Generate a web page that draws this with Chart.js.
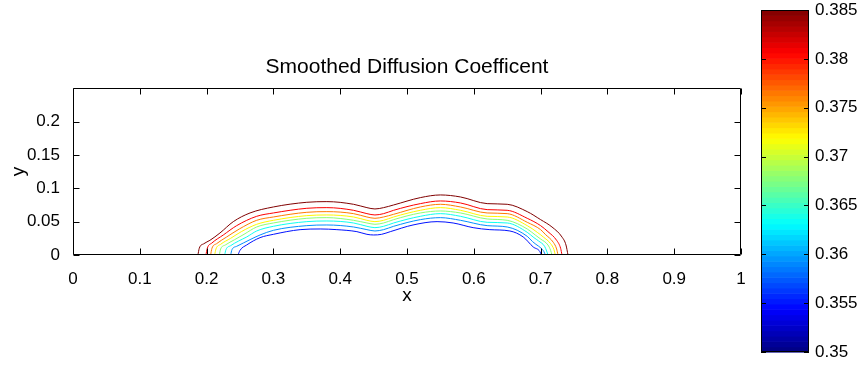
<!DOCTYPE html>
<html>
<head>
<meta charset="utf-8">
<script src="https://cdn.jsdelivr.net/npm/chart.js@4.4.1/dist/chart.umd.min.js"></script>
<style>
  html, body { margin: 0; padding: 0; background: #fff; }
  #wrap { width: 861px; height: 369px; }
</style>
</head>
<body>
<div id="wrap"><canvas id="contourChart" width="861" height="369"></canvas></div>
<script>
// ── Contour lines of the smoothed diffusion coefficient, outer to inner ──
const contourLevels = [0.385, 0.3807, 0.3764, 0.3721, 0.3679, 0.3636, 0.3593, 0.355];

const level385 = [[0.187,0],[0.189,0.010],[0.196,0.017],[0.205,0.022],[0.220,0.033],[0.240,0.050],[0.265,0.063],[0.300,0.072],[0.350,0.079],[0.380,0.080],[0.420,0.076],[0.440,0.071],[0.452,0.069],[0.465,0.071],[0.480,0.075],[0.520,0.086],[0.550,0.090],[0.580,0.087],[0.620,0.077],[0.650,0.076],[0.680,0.065],[0.700,0.053],[0.717,0.042],[0.732,0.027],[0.738,0.015],[0.741,0]];
const level381 = [[0.199,0],[0.201,0.010],[0.208,0.018],[0.225,0.030],[0.245,0.044],[0.275,0.058],[0.300,0.063],[0.350,0.070],[0.380,0.071],[0.420,0.067],[0.440,0.062],[0.452,0.060],[0.465,0.062],[0.480,0.067],[0.520,0.077],[0.550,0.081],[0.580,0.078],[0.620,0.068],[0.650,0.067],[0.680,0.055],[0.700,0.044],[0.711,0.035],[0.724,0.022],[0.730,0.010],[0.732,0]];
const level376 = [[0.206,0],[0.208,0.010],[0.215,0.017],[0.230,0.027],[0.249,0.039],[0.275,0.052],[0.300,0.057],[0.350,0.064],[0.380,0.065],[0.420,0.062],[0.440,0.057],[0.452,0.055],[0.465,0.057],[0.480,0.061],[0.520,0.072],[0.550,0.076],[0.580,0.072],[0.620,0.063],[0.650,0.062],[0.680,0.049],[0.700,0.038],[0.707,0.031],[0.719,0.019],[0.724,0.009],[0.726,0]];
const level372 = [[0.212,0],[0.214,0.009],[0.221,0.016],[0.236,0.025],[0.252,0.035],[0.275,0.046],[0.300,0.052],[0.350,0.059],[0.380,0.060],[0.420,0.057],[0.440,0.052],[0.452,0.050],[0.465,0.052],[0.480,0.057],[0.520,0.067],[0.550,0.071],[0.580,0.067],[0.620,0.058],[0.650,0.057],[0.680,0.044],[0.695,0.034],[0.704,0.027],[0.715,0.017],[0.720,0.008],[0.722,0]];
const level368 = [[0.219,0],[0.221,0.009],[0.228,0.015],[0.242,0.023],[0.256,0.031],[0.275,0.042],[0.300,0.048],[0.350,0.055],[0.380,0.056],[0.420,0.052],[0.440,0.048],[0.452,0.046],[0.465,0.048],[0.480,0.053],[0.520,0.063],[0.550,0.066],[0.580,0.063],[0.620,0.054],[0.650,0.052],[0.680,0.039],[0.692,0.030],[0.700,0.024],[0.711,0.015],[0.715,0.007],[0.717,0]];
const level364 = [[0.227,0],[0.229,0.008],[0.236,0.014],[0.248,0.021],[0.260,0.027],[0.275,0.036],[0.300,0.043],[0.350,0.050],[0.380,0.051],[0.420,0.048],[0.440,0.043],[0.452,0.041],[0.465,0.043],[0.480,0.048],[0.520,0.058],[0.550,0.062],[0.580,0.058],[0.620,0.049],[0.650,0.048],[0.680,0.034],[0.690,0.026],[0.697,0.021],[0.706,0.013],[0.709,0.006],[0.711,0]];
const level359 = [[0.236,0],[0.238,0.008],[0.245,0.013],[0.255,0.018],[0.265,0.023],[0.280,0.030],[0.300,0.037],[0.350,0.044],[0.380,0.045],[0.420,0.042],[0.440,0.038],[0.452,0.036],[0.465,0.038],[0.480,0.043],[0.520,0.053],[0.550,0.056],[0.580,0.052],[0.620,0.044],[0.650,0.042],[0.680,0.028],[0.688,0.020],[0.693,0.016],[0.701,0.010],[0.705,0.005],[0.707,0]];
const level355 = [[0.247,0],[0.250,0.007],[0.260,0.015],[0.280,0.026],[0.300,0.031],[0.340,0.038],[0.370,0.039],[0.395,0.038],[0.425,0.035],[0.440,0.031],[0.450,0.030],[0.462,0.031],[0.475,0.035],[0.509,0.045],[0.545,0.050],[0.569,0.048],[0.599,0.041],[0.624,0.038],[0.654,0.036],[0.674,0.027],[0.689,0.012],[0.699,0.005],[0.701,0]];

const contourLines = [level385, level381, level376, level372, level368, level364, level359, level355];

// axis and colorbar ticks
const xTicks = [0, 0.1, 0.2, 0.3, 0.4, 0.5, 0.6, 0.7, 0.8, 0.9, 1];
const xTickLabels = ["0", "0.1", "0.2", "0.3", "0.4", "0.5", "0.6", "0.7", "0.8", "0.9", "1"];
const yTicks = [0, 0.05, 0.1, 0.15, 0.2];
const yTickLabels = ["0", "0.05", "0.1", "0.15", "0.2"];
const cbarTicks = [0.35, 0.355, 0.36, 0.365, 0.37, 0.375, 0.38, 0.385];
const cbarTickLabels = ["0.35", "0.355", "0.36", "0.365", "0.37", "0.375", "0.38", "0.385"];

const FONT = "'Liberation Sans', Arial, Helvetica, sans-serif";

// MATLAB style jet colormap, t in [0,1]
function jet(t) {
  const c = (v) => Math.round(255 * Math.max(0, Math.min(1, v)));
  const r = c(1.5 - Math.abs(4 * t - 3));
  const g = c(1.5 - Math.abs(4 * t - 2));
  const b = c(1.5 - Math.abs(4 * t - 1));
  return `rgb(${r},${g},${b})`;
}
const cMin = cbarTicks[0];
const cMax = cbarTicks[cbarTicks.length - 1];
const levelColor = (v) => jet((v - cMin) / (cMax - cMin));

const datasets = contourLines.map((pts, i) => ({
  label: String(contourLevels[i]),
  data: pts.map(([x, y]) => ({ x, y })),
  showLine: true,
  borderColor: levelColor(contourLevels[i]),
  backgroundColor: levelColor(contourLevels[i]),
  borderWidth: 1,
  pointRadius: 0,
  fill: false,
  cubicInterpolationMode: "monotone",
}));

// box around the axes with inward tick marks on all four sides
const framePlugin = {
  id: "frame",
  afterDatasetsDraw(chart) {
    const { ctx, chartArea: a, scales: { x, y } } = chart;
    const L = Math.round(a.left) + 0.5, R = Math.round(a.right) - 0.5;
    const T = Math.round(a.top) + 0.5, B = Math.round(a.bottom) - 0.5;
    ctx.save();
    ctx.strokeStyle = "#000";
    ctx.lineWidth = 1;
    ctx.beginPath();
    xTicks.forEach((v) => {
      const px = Math.round(x.getPixelForValue(v)) + 0.5;
      ctx.moveTo(px, B); ctx.lineTo(px, B - 6);
      ctx.moveTo(px, T); ctx.lineTo(px, T + 6);
    });
    yTicks.forEach((v) => {
      const py = Math.round(y.getPixelForValue(v)) + 0.5;
      ctx.moveTo(L, py); ctx.lineTo(L + 6, py);
      ctx.moveTo(R, py); ctx.lineTo(R - 6, py);
    });
    ctx.rect(L, T, R - L, B - T);
    ctx.stroke();
    ctx.restore();
  },
};

// jet colorbar on the right
const colorbarPlugin = {
  id: "colorbar",
  afterDraw(chart) {
    const ctx = chart.ctx;
    const left = 761, right = 809, top = 10, bottom = 352;
    const n = 64;
    const h = (bottom - top) / n;
    ctx.save();
    for (let i = 0; i < n; i++) {
      ctx.fillStyle = jet((i + 0.5) / n);
      ctx.fillRect(left, bottom - (i + 1) * h, right - left, h + 0.6);
    }
    const yOf = (v) => bottom - ((v - cMin) / (cMax - cMin)) * (bottom - top);
    ctx.strokeStyle = "#000";
    ctx.lineWidth = 1;
    ctx.beginPath();
    ctx.rect(left + 0.5, top + 0.5, right - left - 1, bottom - top - 1);
    cbarTicks.forEach((v) => {
      const py = Math.round(yOf(v)) + 0.5;
      ctx.moveTo(left, py); ctx.lineTo(left + 5, py);
      ctx.moveTo(right, py); ctx.lineTo(right - 5, py);
    });
    ctx.stroke();
    ctx.fillStyle = "#000";
    ctx.font = `17px ${FONT}`;
    ctx.textAlign = "left";
    ctx.textBaseline = "middle";
    cbarTicks.forEach((v, i) => ctx.fillText(cbarTickLabels[i], 815, yOf(v)));
    ctx.restore();
  },
};

const ctx = document.getElementById("contourChart").getContext("2d");
new Chart(ctx, {
  type: "scatter",
  data: { datasets },
  plugins: [framePlugin, colorbarPlugin],
  options: {
    responsive: false,
    animation: false,
    layout: { padding: { left: 0, right: 120, top: 45, bottom: 62 } },
    plugins: {
      legend: { display: false },
      tooltip: { enabled: false },
      title: {
        display: true,
        fullSize: false,
        text: "Smoothed Diffusion Coefficent",
        color: "#000",
        font: { family: FONT, size: 21, weight: "normal" },
        padding: { top: 10, bottom: 8 },
      },
    },
    scales: {
      x: {
        type: "linear",
        min: 0,
        max: 1,
        grid: { display: false },
        border: { display: false },
        afterBuildTicks: (s) => { s.ticks = xTicks.map((v) => ({ value: v })); },
        afterFit: (s) => { s.height = 52; },
        ticks: {
          color: "#000",
          padding: 6,
          maxRotation: 0,
          font: { family: FONT, size: 17 },
          callback: (v, i) => xTickLabels[i],
        },
        title: {
          display: true,
          text: "x",
          color: "#000",
          padding: 0,
          font: { family: FONT, size: 19 },
        },
      },
      y: {
        type: "linear",
        min: 0,
        max: 0.25,
        grid: { display: false },
        border: { display: false },
        afterBuildTicks: (s) => { s.ticks = yTicks.map((v) => ({ value: v })); },
        afterFit: (s) => { s.width = 73; },
        ticks: {
          color: "#000",
          padding: 5,
          font: { family: FONT, size: 17 },
          callback: (v, i) => yTickLabels[i],
        },
        title: {
          display: true,
          text: "y",
          color: "#000",
          padding: { top: 7, bottom: 0 },
          font: { family: FONT, size: 19 },
        },
      },
    },
  },
});
</script>
</body>
</html>
